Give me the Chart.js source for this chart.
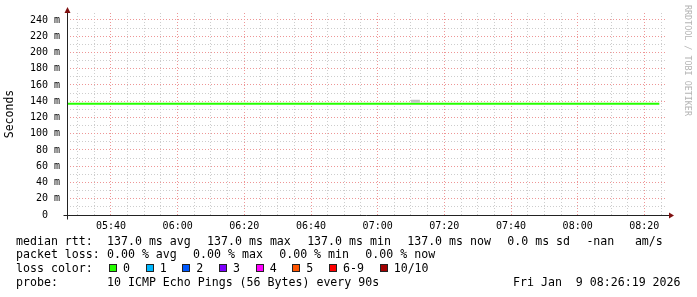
<!DOCTYPE html>
<html>
<head>
<meta charset="utf-8">
<script src="https://cdn.jsdelivr.net/npm/chart.js@4/dist/chart.umd.min.js"></script>
<style>
  html, body { margin: 0; padding: 0; background: #fff; overflow: hidden; }
  #wrap { position: relative; width: 697px; height: 297px; }
  #chart { position: absolute; left: 0; top: 0; }
  .legend {
    position: absolute; left: 16px; top: 234.8px;
    font-family: "DejaVu Sans Mono", monospace; font-size: 11.6px; color: #000;
  }
  .row { height: 13.65px; line-height: 13.65px; white-space: pre; }
  .lab { display: inline-block; width: 91px; }
  .f { margin-right: 16.3px; }
  .loss-item { display: inline-block; margin-right: 15.7px; }
  .loss-item:first-of-type { margin-left: 2px; }
  .loss-box {
    display: inline-block; width: 6px; height: 6px; border: 1px solid #222;
    vertical-align: 0px; margin-right: 6px;
  }
  .stamp {
    position: absolute; left: 513px; top: 275.75px;
    font-family: "DejaVu Sans Mono", monospace; font-size: 11.6px;
    line-height: 13.65px; white-space: pre; color: #000;
  }
</style>
</head>
<body>
<div id="wrap">
  <canvas id="chart" width="697" height="297"></canvas>
  <div class="legend">
    <div class="row"><span class="lab">median rtt:</span><span class="f">137.0 ms avg</span><span class="f">137.0 ms max</span><span class="f">137.0 ms min</span><span class="f">137.0 ms now</span><span class="f">0.0 ms sd</span><span class="f">-nan</span><span style="margin-left:4.3px">am/s</span></div>
    <div class="row"><span class="lab">packet loss:</span><span class="f">0.00 % avg</span><span class="f">0.00 % max</span><span class="f">0.00 % min</span><span class="f">0.00 % now</span></div>
    <div class="row" id="lossRow"><span class="lab">loss color:</span></div>
    <div class="row"><span class="lab">probe:</span><span>10 ICMP Echo Pings (56 Bytes) every 90s</span></div>
  </div>
  <div class="stamp">Fri Jan  9 08:26:19 2026</div>
</div>
<script>
// time window (clock time)
const rangeStart = '05:26:48';
const rangeEnd = '08:26:48';

// median rtt in ms
const medianTimes = ['05:26:48', '05:40:00', '06:00:00', '06:20:00', '06:40:00', '07:00:00',
  '07:20:00', '07:40:00', '08:00:00', '08:20:00', '08:24:30'];
const medianValues = [137, 137, 137, 137, 137, 137, 137, 137, 137, 137, 137];

// the little bit of smoke around 07:10
const smokeTimes = ['07:10:00', '07:12:40'];
const smokeValues = [140, 140];

// legend for packet loss colours
const lossLabels = ['0', '1', '2', '3', '4', '5', '6-9', '10/10'];
const lossColors = ['#26ff00', '#00b8ff', '#0059ff', '#7e00ff', '#ff00ff', '#ff5500', '#ff0000', '#a10000'];

const yMax = 248.6;

function toMin(t) {
  const p = t.split(':').map(Number);
  return p[0] * 60 + p[1] + (p[2] || 0) / 60;
}
function pad(n) { return String(n).padStart(2, '0'); }

// build loss colour legend
const lossRow = document.getElementById('lossRow');
lossLabels.forEach((lab, i) => {
  const item = document.createElement('span');
  item.className = 'loss-item';
  if (i === 0) item.style.marginLeft = '2px';
  const box = document.createElement('span');
  box.className = 'loss-box';
  box.style.background = lossColors[i];
  item.appendChild(box);
  item.appendChild(document.createTextNode(lab));
  lossRow.appendChild(item);
});

const MINOR = 'rgb(205,205,205)';
const MAJOR = 'rgb(238,150,150)';
const mono = 'DejaVu Sans Mono';

// axes with arrows + vertical watermark, drawn the rrdtool way
const rrdDecor = {
  id: 'rrdDecor',
  afterDraw(chart) {
    const ctx = chart.ctx;
    const a = chart.chartArea;
    const x0 = Math.round(a.left) + 0.5;
    const y0 = Math.round(a.bottom) + 0.5;
    ctx.save();
    ctx.strokeStyle = '#222';
    ctx.lineWidth = 1;
    ctx.beginPath();
    ctx.moveTo(x0 - 4, y0); ctx.lineTo(a.right + 3, y0);
    ctx.moveTo(x0, y0 + 4); ctx.lineTo(x0, a.top - 1);
    ctx.stroke();
    ctx.fillStyle = '#7f1010';
    ctx.beginPath();
    ctx.moveTo(x0, a.top - 6); ctx.lineTo(x0 - 3, a.top); ctx.lineTo(x0 + 3, a.top); ctx.closePath();
    ctx.fill();
    ctx.beginPath();
    ctx.moveTo(a.right + 7, y0); ctx.lineTo(a.right + 2, y0 - 3); ctx.lineTo(a.right + 2, y0 + 3); ctx.closePath();
    ctx.fill();
    // watermark
    ctx.translate(687.5, 5);
    ctx.rotate(Math.PI / 2);
    ctx.fillStyle = '#b4b4b4';
    ctx.font = '8.4px ' + mono;
    ctx.textBaseline = 'middle';
    ctx.fillText('RRDTOOL / TOBI OETIKER', 0, 0);
    ctx.restore();
  }
};

new Chart(document.getElementById('chart'), {
  type: 'line',
  data: {
    datasets: [
      {
        label: 'smoke',
        data: smokeTimes.map((t, i) => ({ x: toMin(t), y: smokeValues[i] })),
        borderColor: 'rgb(195,195,195)',
        borderWidth: 3,
        pointRadius: 0
      },
      {
        label: 'median rtt',
        data: medianTimes.map((t, i) => ({ x: toMin(t), y: medianValues[i] })),
        borderColor: '#26ff00',
        borderWidth: 2,
        pointRadius: 0,
        tension: 0
      }
    ]
  },
  options: {
    responsive: false,
    animation: false,
    events: [],
    layout: { padding: { top: 13, right: 30, bottom: 0, left: 0 } },
    plugins: { legend: { display: false }, tooltip: { enabled: false } },
    scales: {
      x: {
        type: 'linear',
        min: toMin(rangeStart),
        max: toMin(rangeEnd),
        afterBuildTicks(scale) {
          const ticks = [];
          for (let v = Math.ceil(scale.min / 5) * 5; v <= scale.max; v += 5) ticks.push({ value: v });
          scale.ticks = ticks;
        },
        afterFit(scale) { scale.height = 82; },
        grid: {
          drawTicks: false,
          color: (c) => (c.tick && c.tick.value % 20 === 0 ? MAJOR : MINOR),
          lineWidth: 1
        },
        border: { display: false, dash: [1, 2] },
        ticks: {
          autoSkip: false,
          maxRotation: 0,
          padding: 5,
          color: '#000',
          font: { family: mono, size: 10 },
          callback: (v) => (v % 20 === 0 ? pad(Math.floor(v / 60)) + ':' + pad(v % 60) : '')
        }
      },
      y: {
        min: 0,
        max: yMax,
        afterBuildTicks(scale) {
          const ticks = [];
          for (let v = 0; v <= 240; v += 10) ticks.push({ value: v });
          scale.ticks = ticks;
        },
        afterFit(scale) { scale.width = 67; },
        grid: {
          drawTicks: false,
          color: (c) => (c.tick && c.tick.value % 20 === 0 ? MAJOR : MINOR),
          lineWidth: 1
        },
        border: { display: false, dash: [1, 2] },
        title: {
          display: true,
          text: 'Seconds',
          color: '#000',
          font: { family: mono, size: 11.5 },
          padding: { top: 3, bottom: 0 }
        },
        ticks: {
          autoSkip: false,
          padding: 7,
          color: '#000',
          font: { family: mono, size: 10 },
          callback: (v) => (v % 20 !== 0 ? '' : v === 0 ? '0  ' : v + ' m')
        }
      }
    }
  },
  plugins: [rrdDecor]
});
</script>
</body>
</html>
